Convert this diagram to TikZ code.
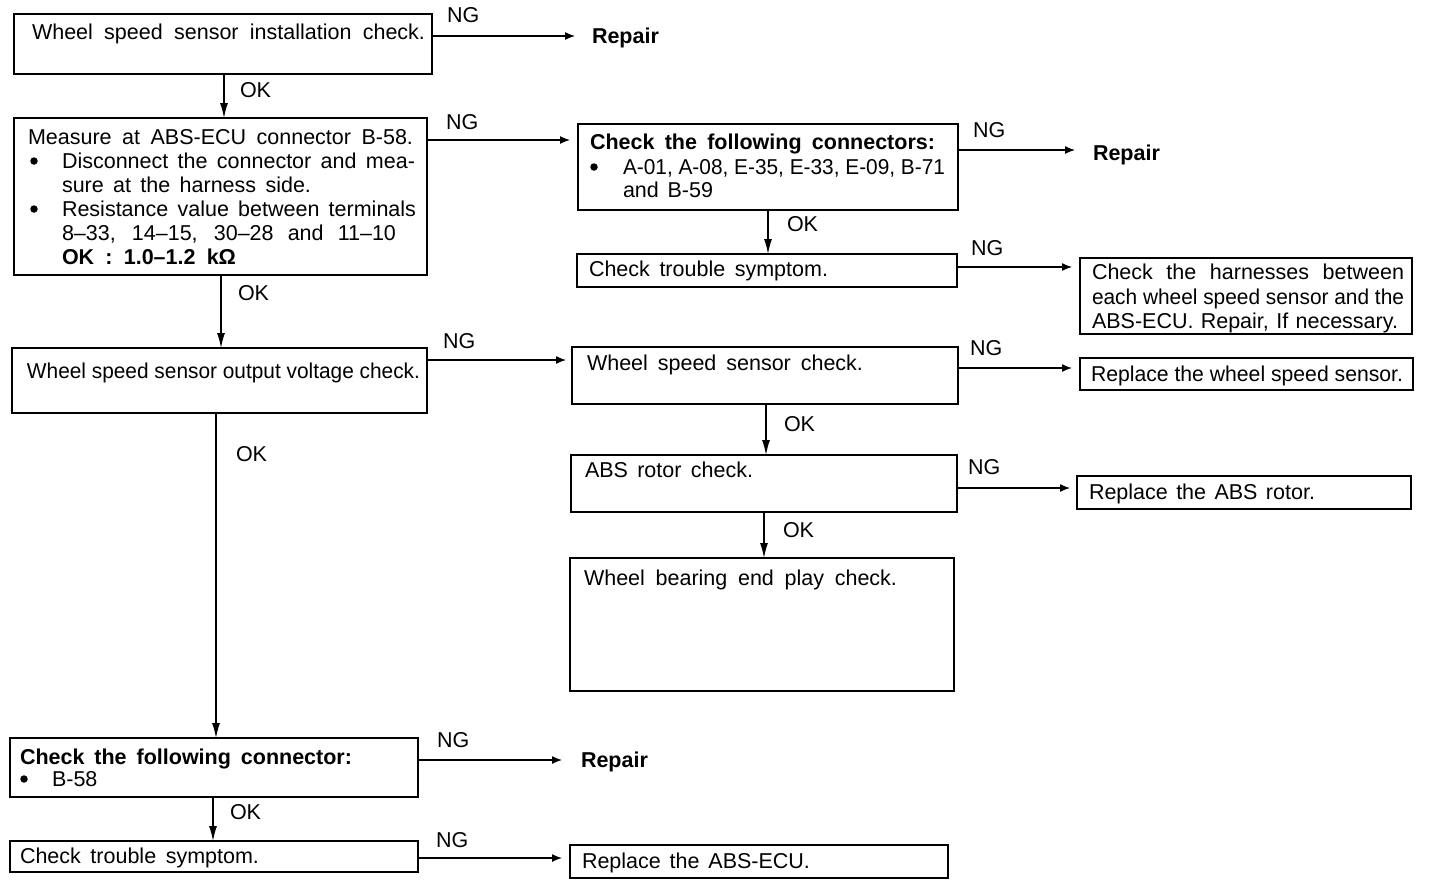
\documentclass[tikz,border=0pt]{standalone}
\usepackage{fontspec}
\usepackage{graphicx}
\setmainfont{Liberation Sans}
\usetikzlibrary{arrows.meta,calc}
\newsavebox\fwbox
\newcommand{\fw}[2]{\sbox\fwbox{#2}\ifdim\wd\fwbox>#1\relax\resizebox{#1}{\height}{\usebox\fwbox}\else\makebox[#1][s]{#2}\fi}
\tikzset{
  box/.style={draw, line width=1.7pt, rectangle, inner sep=0pt, outer sep=0pt, anchor=north west},
  txt/.style={inner sep=0pt, outer sep=0pt, anchor=base west, font=\fontsize{21.5}{24}\selectfont},
  lbl/.style={txt},
  dot/.style={circle, fill, inner sep=0pt, minimum size=7.5pt},
  ng/.style={draw, line width=1.3pt, -{Latex[length=10pt,width=8pt]}},
  ok/.style={draw, line width=1.3pt, -{Latex[length=15pt,width=8pt]}},
}
\newcommand{\bx}[5]{\node[box, minimum width=#3pt, minimum height=#4pt] (#5) at (#1,#2) {};}
\begin{document}
\begin{tikzpicture}[x=1pt,y=-1pt]
\useasboundingbox (0,0) rectangle (1440,892);
% boxes
\bx{14}{14}{418}{60}{A}
\bx{14}{118}{413}{157}{B}
\bx{578}{124}{380}{86}{C}
\bx{577}{254}{380}{33}{D}
\bx{1080}{258}{332}{76}{E}
\bx{12}{348}{415}{65}{F}
\bx{572}{347}{386}{57}{G}
\bx{1080}{358}{333}{32}{H}
\bx{571}{455}{386}{57}{I}
\bx{1077}{476}{334}{33}{J}
\bx{570}{558}{384}{133}{K}
\bx{10}{738}{408}{59}{L}
\bx{10}{841}{408}{31}{M}
\bx{570}{845}{378}{33}{N}
% bullets
\node[dot] (bB1) at (34,161) {};
\node[dot] (bB2) at (34,209) {};
\node[dot] (bC1) at (594,167) {};
\node[dot] (bL1) at (24,779) {};
% texts
\node[txt] (tA) at (32,39) {\fw{393pt}{Wheel speed sensor installation check.}};
\node[txt] (tB1) at (28,144) {\fw{385pt}{Measure at ABS-ECU connector B-58.}};
\node[txt] (tB2) at (62,168) {\fw{353pt}{Disconnect the connector and mea-}};
\node[txt] (tB3) at (62,192) {\fw{249pt}{sure at the harness side.}};
\node[txt] (tB4) at (62,216) {\fw{354pt}{Resistance value between terminals}};
\node[txt] (tB5) at (62,240) {\fw{334pt}{8–33, 14–15, 30–28 and 11–10}};
\node[txt] (tB6) at (62,264) {\fw{174pt}{\bfseries OK : 1.0–1.2 kΩ}};
\node[txt] (tC1) at (590,149) {\fw{345pt}{\bfseries Check the following connectors:}};
\node[txt] (tC2) at (623,174) {\fw{322pt}{A-01, A-08, E-35, E-33, E-09, B-71}};
\node[txt] (tC3) at (623,197) {\fw{90pt}{and B-59}};
\node[txt] (tD) at (589,276) {\fw{239pt}{Check trouble symptom.}};
\node[txt] (tE1) at (1092,279) {\fw{312pt}{Check the harnesses between}};
\node[txt] (tE2) at (1092,304) {\fw{312pt}{each wheel speed sensor and the}};
\node[txt] (tE3) at (1092,328) {\fw{306pt}{ABS-ECU. Repair, If necessary.}};
\node[txt] (tF) at (27,378) {\fw{393pt}{Wheel speed sensor output voltage check.}};
\node[txt] (tG) at (587,370) {\fw{276pt}{Wheel speed sensor check.}};
\node[txt] (tH) at (1091,381) {\fw{312pt}{Replace the wheel speed sensor.}};
\node[txt] (tI) at (585,477) {\fw{168pt}{ABS rotor check.}};
\node[txt] (tJ) at (1089,499) {\fw{226pt}{Replace the ABS rotor.}};
\node[txt] (tK) at (584,585) {\fw{313pt}{Wheel bearing end play check.}};
\node[txt] (tL1) at (20,764) {\fw{332pt}{\bfseries Check the following connector:}};
\node[txt] (tL2) at (52,786) {B-58};
\node[txt] (tM) at (20,863) {\fw{239pt}{Check trouble symptom.}};
\node[txt] (tN) at (582,868) {\fw{228pt}{Replace the ABS-ECU.}};
\node[txt] (rep1) at (592,43) {\bfseries Repair};
\node[txt] (rep2) at (1093,160) {\bfseries Repair};
\node[txt] (rep3) at (581,767) {\bfseries Repair};
% labels
\node[lbl] (ng1) at (447,22) {NG};
\node[lbl] (ng2) at (446,129) {NG};
\node[lbl] (ng3) at (973,137) {NG};
\node[lbl] (ng4) at (971,255) {NG};
\node[lbl] (ng5) at (443,348) {NG};
\node[lbl] (ng6) at (970,355) {NG};
\node[lbl] (ng7) at (968,474) {NG};
\node[lbl] (ng8) at (437,747) {NG};
\node[lbl] (ng9) at (436,847) {NG};
\node[lbl] (ok1) at (240,97) {OK};
\node[lbl] (ok2) at (238,300) {OK};
\node[lbl] (ok3) at (787,231) {OK};
\node[lbl] (ok4) at (236,461) {OK};
\node[lbl] (ok5) at (784,431) {OK};
\node[lbl] (ok6) at (783,537) {OK};
\node[lbl] (ok7) at (230,819) {OK};
% vertical connectors
\draw[ok] (A.south -| 224,0) -- (B.north -| 224,0);
\draw[ok] (B.south -| 221,0) -- (F.north -| 221,0);
\draw[ok] (F.south -| 216,0) -- (L.north -| 216,0);
\draw[ok] (L.south -| 213,0) -- (M.north -| 213,0);
\draw[ok] (C.south -| 768,0) -- (D.north -| 768,0);
\draw[ok] (G.south -| 766,0) -- (I.north -| 766,0);
\draw[ok] (I.south -| 764,0) -- (K.north -| 764,0);
% horizontal connectors
\draw[ng, shorten >=17pt] (A.east |- 0,36) -- (rep1.west |- 0,36);
\draw[ng, shorten >=8pt] (B.east |- 0,140) -- (C.west |- 0,140);
\draw[ng, shorten >=18pt] (C.east |- 0,150) -- (rep2.west |- 0,150);
\draw[ng, shorten >=8pt] (D.east |- 0,267) -- (E.west |- 0,267);
\draw[ng, shorten >=6pt] (F.east |- 0,360) -- (G.west |- 0,360);
\draw[ng, shorten >=8pt] (G.east |- 0,368) -- (H.west |- 0,368);
\draw[ng, shorten >=7pt] (I.east |- 0,488) -- (J.west |- 0,488);
\draw[ng, shorten >=19pt] (L.east |- 0,760) -- (rep3.west |- 0,760);
\draw[ng, shorten >=8pt] (M.east |- 0,858) -- (N.west |- 0,858);
\end{tikzpicture}
\end{document}
